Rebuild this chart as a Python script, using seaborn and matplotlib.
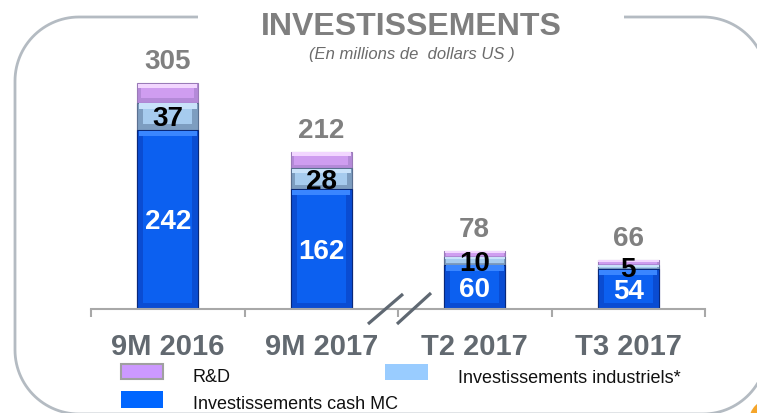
import numpy as np
import pandas as pd
import matplotlib
matplotlib.use("Agg")
import matplotlib.pyplot as plt
import seaborn as sns
from matplotlib.patches import Rectangle, Circle, PathPatch
from matplotlib.path import Path

# ---------------- data ----------------
categories = ["9M 2016", "9M 2017", "T2 2017", "T3 2017"]
cash_mc = [242, 162, 60, 54]          # Investissements cash MC
industriels = [37, 28, 10, 5]         # Investissements industriels*
rd = [26, 22, 8, 7]                   # R&D
totals = [305, 212, 78, 66]

legend_labels = ["R&D", "Investissements industriels*", "Investissements cash MC"]
title = "INVESTISSEMENTS"
subtitle = "(En millions de  dollars US )"

# ---------------- style ----------------
sns.set_style("white")
plt.rcParams["font.family"] = ["Liberation Sans", "DejaVu Sans"]

W, H = 757, 413
fig = plt.figure(figsize=(W / 100, H / 100), dpi=100)

# background pixel-coordinate axes for decoration
bg = fig.add_axes([0, 0, 1, 1], zorder=0)
bg.set_xlim(0, W)
bg.set_ylim(H, 0)
bg.axis("off")

# main axes
PX_PER_UNIT = 0.74
base_px = 309
ax = fig.add_axes([91 / W, (H - base_px) / H, 614 / W, base_px / H], zorder=1)
ax.patch.set_alpha(0)

df = pd.DataFrame({
    "cat": categories,
    "total": [c + i + r for c, i, r in zip(cash_mc, industriels, rd)],
    "mid": [c + i for c, i in zip(cash_mc, industriels)],
    "cash": cash_mc,
})

BLUE_FRAME, BLUE_IN, BLUE_TOP, BLUE_EDGE = "#0a4cd2", "#0c60f0", "#3a86ff", "#08287a"
LB_FRAME, LB_IN, LB_TOP, LB_EDGE = "#7d9dc0", "#a6cbee", "#c9e2fa", "#5a7090"
PU_FRAME, PU_IN, PU_TOP, PU_EDGE = "#b48ad8", "#cf9df0", "#f2d6ff", "#9a7ab8"

BW = 0.4
sns.barplot(data=df, x="cat", y="total", color=PU_FRAME, saturation=1, width=BW,
            edgecolor=PU_EDGE, linewidth=0.8, ax=ax)
sns.barplot(data=df, x="cat", y="mid", color=LB_FRAME, saturation=1, width=BW,
            edgecolor=LB_EDGE, linewidth=0.8, ax=ax)
sns.barplot(data=df, x="cat", y="cash", color=BLUE_FRAME, saturation=1, width=BW,
            edgecolor=BLUE_EDGE, linewidth=0.8, ax=ax)

ax.set_xlim(-0.5, 3.5)
ax.set_ylim(0, base_px / PX_PER_UNIT)

# bevel-like inner faces for each segment
xpx = 153.5  # px per category unit
for i in range(len(categories)):
    segs = [
        (0, cash_mc[i], BLUE_IN, BLUE_TOP),
        (cash_mc[i], cash_mc[i] + industriels[i], LB_IN, LB_TOP),
        (cash_mc[i] + industriels[i], cash_mc[i] + industriels[i] + rd[i], PU_IN, PU_TOP),
    ]
    for lo, hi, cin, ctop in segs:
        hpx = (hi - lo) * PX_PER_UNIT
        inset = min(6, max(1.5, hpx * 0.22))
        dx = inset / xpx
        dy = inset / PX_PER_UNIT
        # top highlight strip
        ax.add_patch(Rectangle((i - BW / 2 + dx * 0.3, hi - dy), BW - dx * 0.6, dy * 0.9,
                               facecolor=ctop, edgecolor="none", zorder=3))
        # inner face
        if hi - lo > 2.5 * dy:
            ax.add_patch(Rectangle((i - BW / 2 + dx, lo + dy), BW - 2 * dx, (hi - lo) - 2 * dy,
                                   facecolor=cin, edgecolor="none", zorder=3))
        else:
            ax.add_patch(Rectangle((i - BW / 2 + dx, lo + dy * 0.5), BW - 2 * dx, max((hi - lo) - 1.5 * dy, 0.1),
                                   facecolor=cin, edgecolor="none", zorder=3))

# value labels
for i in range(len(categories)):
    ax.annotate(str(totals[i]), (i, totals[i]), xytext=(0, 10.5), textcoords="offset points",
                ha="center", va="baseline", fontsize=20, fontweight="bold", color="#808080",
                zorder=5)
    ax.annotate(str(industriels[i]), (i, cash_mc[i] + industriels[i] / 2), xytext=(0, -7.2),
                textcoords="offset points", ha="center", va="baseline", fontsize=20,
                fontweight="bold", color="black", zorder=5)
    ax.annotate(str(cash_mc[i]), (i, cash_mc[i] / 2), xytext=(0, -7.2),
                textcoords="offset points", ha="center", va="baseline", fontsize=20,
                fontweight="bold", color="white", zorder=5)

# axes styling
ax.set_xlabel("")
ax.set_ylabel("")
ax.set_yticks([])
for s in ["left", "right", "top"]:
    ax.spines[s].set_visible(False)
ax.spines["bottom"].set_color("#a8a8a8")
ax.spines["bottom"].set_linewidth(1.5)
ax.spines["bottom"].set_zorder(4)
ax.set_xticks(range(len(categories)))
ax.set_xticklabels(categories)
ax.tick_params(axis="x", which="major", length=0, pad=17.3, labelsize=21,
               labelcolor="#626970")
for t in ax.get_xticklabels():
    t.set_fontweight("bold")
ax.set_xticks(np.arange(-0.5, len(categories)), minor=True)
ax.tick_params(axis="x", which="minor", bottom=True, length=5.8, width=1.5,
               color="#a8a8a8", direction="out")

# axis break marks
for (x0, y0, x1, y1) in [(368, 324, 403, 294), (397, 324, 431, 293)]:
    ax.plot([x0, x1], [y0, y1], color="#5f6872", lw=2.3, transform=bg.transData,
            clip_on=False, zorder=6, solid_capstyle="butt")

# rounded frame with gap for the title
L, T, R, B, r = 15, 17, 767, 414, 64
def arc(cx, cy, a0, a1, n=30):
    a = np.linspace(np.radians(a0), np.radians(a1), n)
    return np.column_stack([cx + r * np.cos(a), cy + r * np.sin(a)])
pts = [np.array([[198, T], [L + r, T]]),
       arc(L + r, T + r, 270, 180),
       np.array([[L, B - r]]),
       arc(L + r, B - r, 180, 90),
       np.array([[R - r, B]]),
       arc(R - r, B - r, 90, 0),
       np.array([[R, T + r]]),
       arc(R - r, T + r, 0, -90),
       np.array([[624, T]])]
verts = np.vstack(pts)
bg.add_patch(PathPatch(Path(verts), facecolor="none", edgecolor="#b4bbc2", lw=2.0,
                       clip_on=False))
bg.add_patch(Circle((771, 421), 22, facecolor="#f5a52a", edgecolor="none", clip_on=False))

# title
bg.text(411, 35, title, ha="center", va="baseline", fontsize=23, fontweight="bold",
        color="#7f7f7f")
bg.text(412, 59, subtitle, ha="center", va="baseline", fontsize=12, style="italic",
        color="#6b6b6b")

# legend
leg = [((121, 364, 42, 15), "#cc99ff", "#a0a0a0", legend_labels[0], (193, 382)),
       ((385, 364, 43, 16), "#99ccff", "none", legend_labels[1], (458, 383)),
       ((121, 391, 42, 17), "#0066ff", "none", legend_labels[2], (193, 409))]
for (x, y, w, h), fc, ec, lab, (tx, ty) in leg:
    bg.add_patch(Rectangle((x, y), w, h, facecolor=fc, edgecolor=ec, lw=1.5))
    bg.text(tx, ty, lab, ha="left", va="baseline", fontsize=13, color="#111111")

fig.savefig("out.png", dpi=100)
